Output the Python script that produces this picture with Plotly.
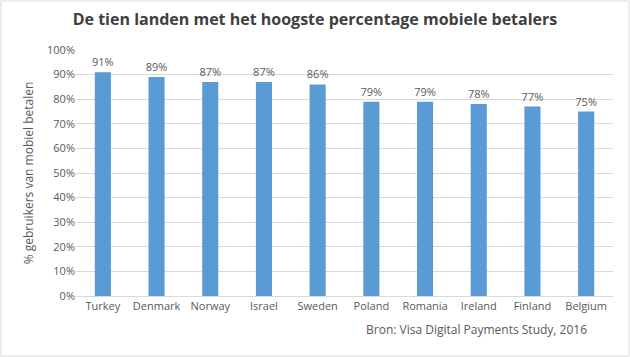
import plotly.graph_objects as go

countries = ["Turkey", "Denmark", "Norway", "Israel", "Sweden", "Poland", "Romania", "Ireland", "Finland", "Belgium"]
values = [91, 89, 87, 87, 86, 79, 79, 78, 77, 75]
tick_vals = [0, 10, 20, 30, 40, 50, 60, 70, 80, 90, 100]
tick_text = [f"{v}%" for v in tick_vals]

FONT = "Open Sans"
GRAY = "#595959"

fig = go.Figure(go.Bar(
    x=countries, y=values,
    marker=dict(color="#5B9BD5", line=dict(width=0)),
    text=[f"{v}%" for v in values], textposition="outside",
    textfont=dict(family=FONT, size=11, color=GRAY),
    constraintext="none",
    cliponaxis=False,
))

fig.update_layout(
    width=630, height=357,
    margin=dict(l=76, r=17, t=50, b=61),
    paper_bgcolor="white", plot_bgcolor="white",
    bargap=0.7,
    showlegend=False,
    title=dict(text="<b>De tien landen met het hoogste percentage mobiele betalers</b>",
               x=0.5, xanchor="center", y=0.945, yanchor="middle",
               font=dict(family=FONT, size=16, color="#404040")),
    xaxis=dict(showgrid=False, showline=True, linecolor="#D9D9D9", linewidth=1,
               tickfont=dict(family=FONT, size=11, color=GRAY), ticks="", automargin=False),
    yaxis=dict(range=[0, 100], tickvals=tick_vals, ticktext=tick_text,
               showgrid=True, gridcolor="#D9D9D9", gridwidth=1, zeroline=False,
               tickfont=dict(family=FONT, size=11, color=GRAY), ticks="", automargin=False,
               title=dict(text="% gebruikers van mobiel betalen",
                          font=dict(family=FONT, size=12, color=GRAY), standoff=10)),
    annotations=[dict(text="Bron: Visa Digital Payments Study, 2016",
                      xref="paper", yref="paper", x=0.955, y=-0.095,
                      xanchor="right", yanchor="top", showarrow=False,
                      font=dict(family=FONT, size=12, color=GRAY))],
    shapes=[dict(type="rect", xref="paper", yref="paper", x0=-75/537, x1=1+16/537,
                 y0=-60/246, y1=1+49/246, line=dict(color="#D9D9D9", width=1))],
)

fig.write_html("out.html", config={"displayModeBar": False},
               post_script="document.body.style.margin='0';")
